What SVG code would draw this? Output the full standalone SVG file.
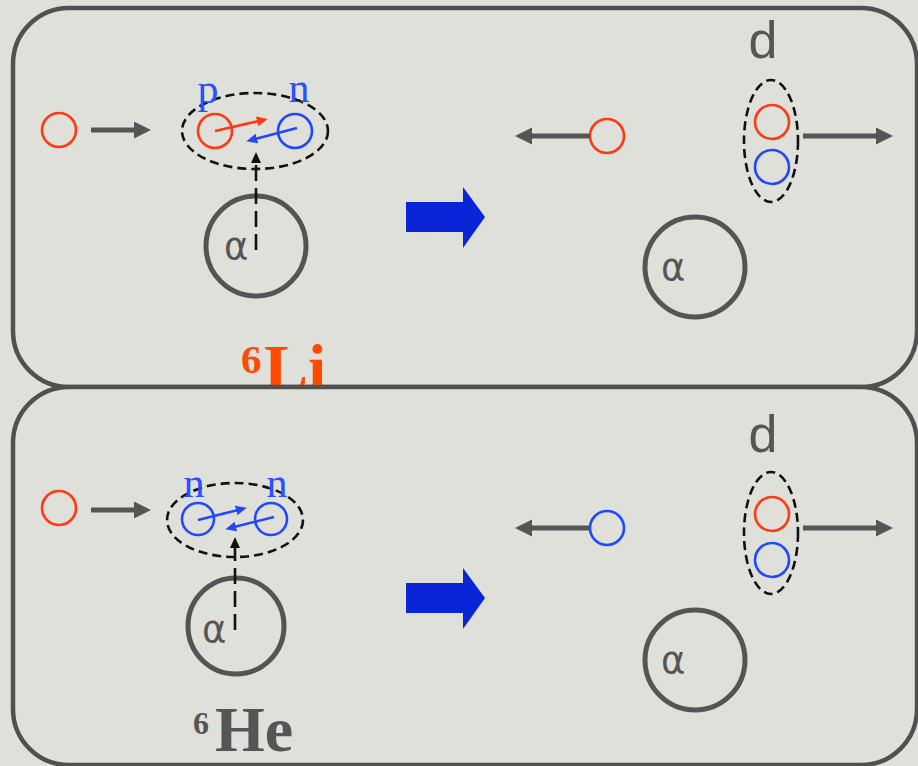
<svg xmlns="http://www.w3.org/2000/svg" width="918" height="766" viewBox="0 0 918 766">
  <style>
    .panel { fill: #e0e0db; stroke: #505050; stroke-width: 4.5; }
    .red { fill: none; stroke: #ff3a12; stroke-width: 2.6; }
    .blue { fill: none; stroke: #2248ff; stroke-width: 2.6; }
    .alpha { fill: none; stroke: #545454; stroke-width: 5; }
    .dash-ell { fill: none; stroke: #111; stroke-width: 2.6; stroke-dasharray: 9 5; }
    .gray-arrow { fill: none; stroke: #555; stroke-width: 5; marker-end: url(#ag); }
    .red-arrow { fill: none; stroke: #ff3a12; stroke-width: 2.6; marker-end: url(#ar); }
    .blue-arrow { fill: none; stroke: #2248ff; stroke-width: 2.6; marker-end: url(#ab); }
    .dash-arrow { fill: none; stroke: #111; stroke-width: 2.6; stroke-dasharray: 16 7; marker-end: url(#ak); }
    .big-arrow { fill: #0a24d8; }
    .lbl-serif { font-family: "Liberation Serif", "Times New Roman", serif; font-size: 42px; fill: #2a50ff; text-anchor: middle; }
    .lbl-d { font-family: "Liberation Sans", Arial, sans-serif; font-size: 52px; fill: #555; text-anchor: middle; }
    .lbl-a { font-family: "DejaVu Sans", "Liberation Sans", sans-serif; font-size: 37px; fill: #555; }
    .nuc { font-family: "Liberation Serif", "Times New Roman", serif; font-weight: bold; }
  </style>
  <defs>
    <marker id="ag" markerUnits="userSpaceOnUse" markerWidth="18" markerHeight="18" refX="2" refY="8.5" orient="auto">
      <path d="M0,0 L17,8.5 L0,17 Z" fill="#555"/>
    </marker>
    <marker id="ar" markerUnits="userSpaceOnUse" markerWidth="12" markerHeight="11" refX="2" refY="5" orient="auto">
      <path d="M0,0 L11,5 L0,10 Z" fill="#ff3a12"/>
    </marker>
    <marker id="ab" markerUnits="userSpaceOnUse" markerWidth="12" markerHeight="11" refX="2" refY="5" orient="auto">
      <path d="M0,0 L11,5 L0,10 Z" fill="#2248ff"/>
    </marker>
    <marker id="ak" markerUnits="userSpaceOnUse" markerWidth="12" markerHeight="11" refX="2" refY="5" orient="auto">
      <path d="M0,0 L11,5 L0,10 Z" fill="#111"/>
    </marker>
  </defs>

  <rect x="0" y="0" width="918" height="766" fill="#e0e0db"/>

  <!-- Top panel: 6Li -->
  <g id="panel-li">
    <rect class="panel" x="13" y="8" width="904" height="379" rx="56" ry="56"/>
    <text class="nuc" fill="#ff4a00"><tspan x="241" y="373" font-size="41">6</tspan><tspan x="264" y="390" font-size="66">Li</tspan></text>
  </g>

  <!-- Bottom panel: 6He -->
  <g id="panel-he">
    <rect class="panel" x="13" y="387" width="904" height="378" rx="56" ry="56"/>
    <text class="nuc" fill="#555"><tspan x="193" y="734" font-size="32">6</tspan><tspan x="215" y="751" font-size="64">He</tspan></text>
  </g>

  <!-- Top panel nodes -->
  <g id="li-incoming-proton"><circle class="red" cx="59" cy="130" r="17"/></g>
  <g id="li-cluster">
    <ellipse class="dash-ell" cx="255" cy="131" rx="73" ry="38"/>
  </g>
  <g id="li-p"><circle class="red" cx="215" cy="131" r="17"/><text class="lbl-serif" x="208" y="103">p</text></g>
  <g id="li-n"><circle class="blue" cx="295" cy="131" r="17"/><text class="lbl-serif" x="299" y="102">n</text></g>
  <g id="li-alpha"><circle class="alpha" cx="256" cy="246" r="50"/><text class="lbl-a" x="224" y="259">α</text></g>
  <g id="li-arrow-big"><polygon class="big-arrow" points="406,202 463,202 463,187 485,217 463,248 463,232 406,232"/></g>
  <g id="li-out-proton"><circle class="red" cx="607" cy="136" r="17"/></g>
  <g id="li-deuteron">
    <text class="lbl-d" x="763" y="58">d</text>
    <ellipse class="dash-ell" cx="771" cy="141" rx="27" ry="61"/>
    <circle class="red" cx="772" cy="122" r="17"/>
    <circle class="blue" cx="772" cy="167" r="17"/>
  </g>
  <g id="li-out-alpha"><circle class="alpha" cx="695" cy="267" r="50"/><text class="lbl-a" x="661" y="280">α</text></g>

  <!-- Bottom panel nodes -->
  <g id="he-incoming-proton"><circle class="red" cx="59" cy="508" r="17"/></g>
  <g id="he-cluster"><ellipse class="dash-ell" cx="235" cy="520" rx="68" ry="37"/></g>
  <g id="he-n1"><circle class="blue" cx="198" cy="519" r="16"/><text class="lbl-serif" x="194" y="497">n</text></g>
  <g id="he-n2"><circle class="blue" cx="271" cy="519" r="16"/><text class="lbl-serif" x="277" y="497">n</text></g>
  <g id="he-alpha"><circle class="alpha" cx="236" cy="626" r="48"/><text class="lbl-a" x="202" y="642">α</text></g>
  <g id="he-arrow-big"><polygon class="big-arrow" points="406,583 463,583 463,568 485,598 463,629 463,613 406,613"/></g>
  <g id="he-out-neutron"><circle class="blue" cx="607" cy="528" r="17"/></g>
  <g id="he-deuteron">
    <text class="lbl-d" x="763" y="452">d</text>
    <ellipse class="dash-ell" cx="771" cy="533" rx="27" ry="61"/>
    <circle class="red" cx="772" cy="514" r="17"/>
    <circle class="blue" cx="772" cy="560" r="17"/>
  </g>
  <g id="he-out-alpha"><circle class="alpha" cx="695" cy="660" r="50"/><text class="lbl-a" x="661" y="673">α</text></g>

  <!-- Connectors -->
  <g id="connectors">
    <line class="gray-arrow" x1="91" y1="130" x2="136" y2="130"/>
    <line class="red-arrow" x1="215" y1="131" x2="259" y2="121"/>
    <line class="blue-arrow" x1="297" y1="128" x2="255" y2="139"/>
    <line class="dash-arrow" x1="256" y1="250" x2="256" y2="161"/>
    <line class="gray-arrow" x1="590" y1="136" x2="530" y2="136"/>
    <line class="gray-arrow" x1="803" y1="136" x2="878" y2="136"/>

    <line class="gray-arrow" x1="91" y1="510" x2="136" y2="510"/>
    <line class="blue-arrow" x1="198" y1="520" x2="238" y2="510"/>
    <line class="blue-arrow" x1="274" y1="517" x2="234" y2="527"/>
    <line class="dash-arrow" x1="235" y1="630" x2="235" y2="546"/>
    <line class="gray-arrow" x1="590" y1="528" x2="530" y2="528"/>
    <line class="gray-arrow" x1="803" y1="528" x2="878" y2="528"/>
  </g>
</svg>
